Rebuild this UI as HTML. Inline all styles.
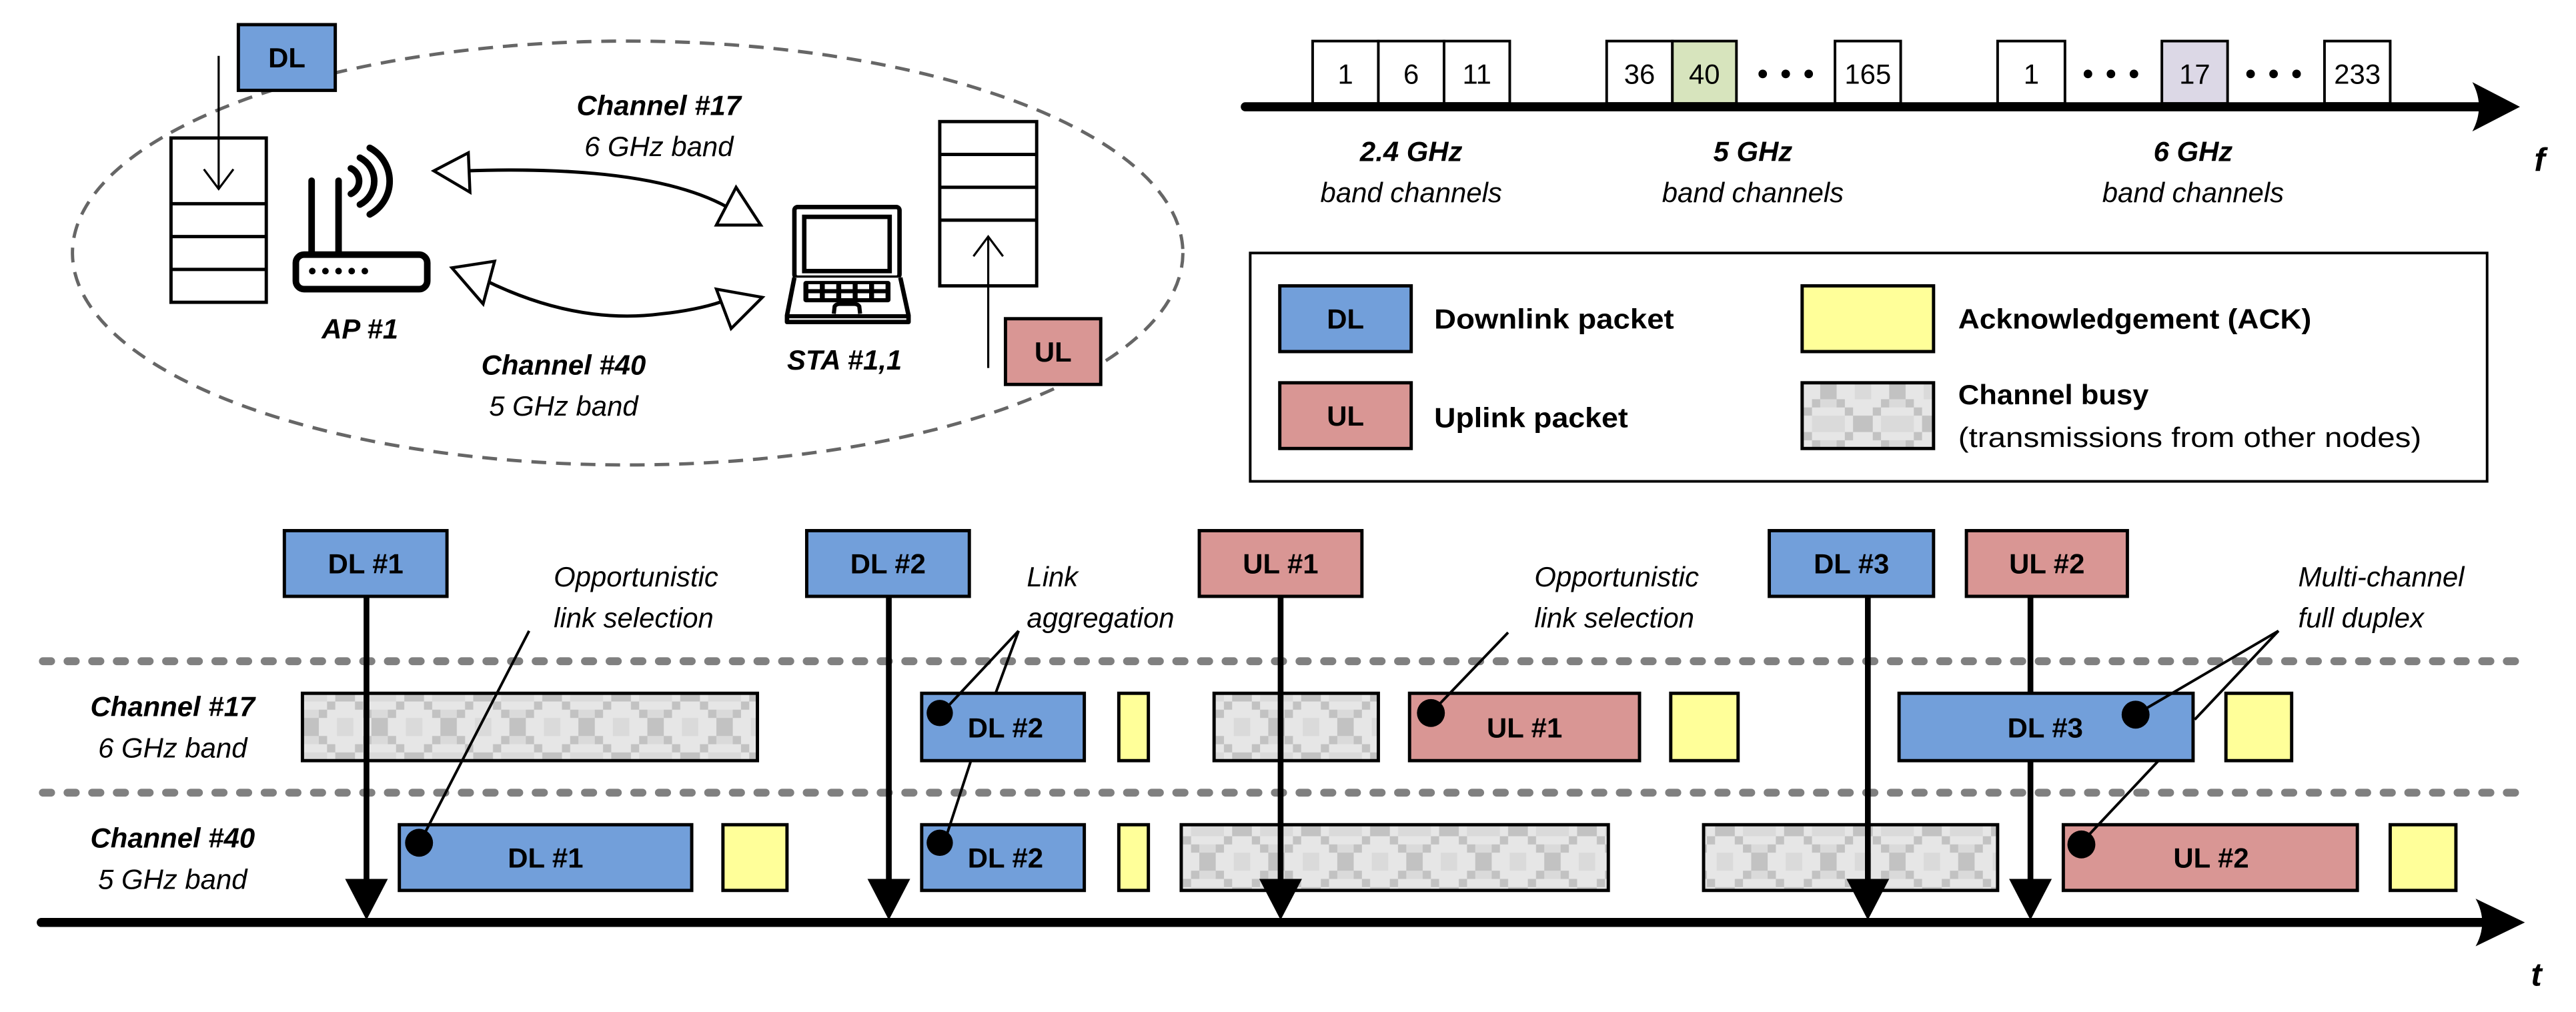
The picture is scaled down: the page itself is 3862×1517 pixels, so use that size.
<!DOCTYPE html>
<html><head><meta charset="utf-8"><style>html,body{margin:0;padding:0;background:#fff}svg{display:block}</style></head>
<body>
<svg width="3862" height="1517" viewBox="0 0 1568 616" xmlns="http://www.w3.org/2000/svg" font-family="'Liberation Sans', sans-serif">
<defs>
<pattern id="busy" patternUnits="userSpaceOnUse" width="42" height="41" x="0" y="422">
<rect width="42" height="41" fill="#e6e6e6"/>
<g fill="#dadada">
<rect x="11" y="0" width="20" height="5"/><rect x="11" y="36" width="20" height="5"/>
<rect x="0" y="15" width="5" height="11"/><rect x="37" y="15" width="5" height="11"/>
<rect x="11" y="10" width="20" height="5"/><rect x="11" y="26" width="20" height="5"/>
</g>
<g fill="#c2c2c2">
<rect x="16" y="15" width="10" height="11"/>
<rect x="11" y="10" width="5" height="5"/><rect x="26" y="10" width="5" height="5"/>
<rect x="11" y="26" width="5" height="5"/><rect x="26" y="26" width="5" height="5"/>
<rect x="6" y="5" width="5" height="5"/><rect x="31" y="5" width="5" height="5"/>
<rect x="6" y="31" width="5" height="5"/><rect x="31" y="31" width="5" height="5"/>
<rect x="0" y="0" width="6" height="5"/><rect x="36" y="0" width="6" height="5"/>
<rect x="0" y="36" width="6" height="5"/><rect x="36" y="36" width="6" height="5"/>
</g>
</pattern>
</defs>

<!-- ===== top-left scene ===== -->
<ellipse cx="382" cy="154" rx="338" ry="129" fill="none" stroke="#666" stroke-width="2" stroke-dasharray="9 6"/>
<rect x="104" y="84" width="58" height="100" fill="#fff" stroke="#000" stroke-width="2"/>
<line x1="104" y1="124" x2="162" y2="124" stroke="#000" stroke-width="2"/>
<line x1="104" y1="144" x2="162" y2="144" stroke="#000" stroke-width="2"/>
<line x1="104" y1="164" x2="162" y2="164" stroke="#000" stroke-width="2"/>
<rect x="145" y="15" width="59" height="40" fill="#729fda" stroke="#000" stroke-width="2"/>
<text x="174.5" y="41" font-size="17" font-weight="bold" text-anchor="middle">DL</text>
<line x1="133" y1="34" x2="133" y2="115" stroke="#000" stroke-width="1.3"/>
<polyline points="124,103 133,115 142,103" fill="none" stroke="#000" stroke-width="1.3"/>
<line x1="189.6" y1="110" x2="189.6" y2="154" stroke="#000" stroke-width="4" stroke-linecap="round"/>
<line x1="206" y1="110" x2="206" y2="154" stroke="#000" stroke-width="4" stroke-linecap="round"/>
<rect x="180" y="155" width="80" height="21" rx="5" fill="#fff" stroke="#000" stroke-width="4"/>
<g fill="#000"><circle cx="190" cy="165" r="2"/><circle cx="198" cy="165" r="2"/><circle cx="206" cy="165" r="2"/><circle cx="214" cy="165" r="2"/><circle cx="222" cy="165" r="2"/></g>
<g fill="none" stroke="#000" stroke-width="4" stroke-linecap="round">
<path d="M 213.5 102.5 A 8.5 8.5 0 0 1 213.5 118"/>
<path d="M 219 96 A 16 16 0 0 1 219 124.5"/>
<path d="M 225 90 A 23 23 0 0 1 225 130.5"/>
</g>
<text x="219" y="206" font-size="17" font-weight="bold" font-style="italic" text-anchor="middle">AP #1</text>
<text x="401" y="70" font-size="17" font-weight="bold" font-style="italic" text-anchor="middle">Channel #17</text>
<text x="401" y="95" font-size="17" font-style="italic" text-anchor="middle">6 GHz band</text>
<path d="M 283 104 Q 400 100 446 128" fill="none" stroke="#000" stroke-width="2"/>
<polygon points="264,104 285,93 286,117" fill="#fff" stroke="#000" stroke-width="1.8"/>
<polygon points="448,114 436,137 463,137" fill="#fff" stroke="#000" stroke-width="1.8"/>
<path d="M 294 170 Q 350 198 403 191 Q 430 188 446 181" fill="none" stroke="#000" stroke-width="2"/>
<polygon points="275,163 301,159 294,185" fill="#fff" stroke="#000" stroke-width="1.8"/>
<polygon points="436,176 464,181 445,200" fill="#fff" stroke="#000" stroke-width="1.8"/>
<text x="343" y="228" font-size="17" font-weight="bold" font-style="italic" text-anchor="middle">Channel #40</text>
<text x="343" y="253" font-size="17" font-style="italic" text-anchor="middle">5 GHz band</text>
<rect x="483.5" y="126" width="64" height="43" rx="2" fill="#fff" stroke="#000" stroke-width="2.7"/>
<rect x="489.5" y="132" width="52" height="33" fill="#fff" stroke="#000" stroke-width="2.7"/>
<path d="M 483.5 169 L 479 192 L 479 196 L 553 196 L 553 192 L 548 169" fill="#fff" stroke="#000" stroke-width="2.7" stroke-linejoin="round"/>
<line x1="479" y1="192.5" x2="553" y2="192.5" stroke="#000" stroke-width="2.5"/>
<rect x="489" y="171" width="53" height="13" rx="1.5" fill="#000"/>
<g fill="#fff">
<rect x="492" y="173" width="7" height="3"/><rect x="502" y="173" width="7" height="3"/><rect x="512" y="173" width="7" height="3"/><rect x="522" y="173" width="7" height="3"/><rect x="532" y="173" width="7" height="3"/>
<rect x="492" y="178.5" width="7" height="3"/><rect x="502" y="178.5" width="7" height="3"/><rect x="512" y="178.5" width="7" height="3"/><rect x="522" y="178.5" width="7" height="3"/><rect x="532" y="178.5" width="7" height="3"/>
</g>
<path d="M 507.5 191 L 508 186.5 Q 509 185 511 185 L 520 185 Q 522 185 523 186.5 L 523.5 191" fill="none" stroke="#000" stroke-width="2.5"/>
<text x="514" y="225" font-size="17" font-weight="bold" font-style="italic" text-anchor="middle">STA #1,1</text>
<rect x="572" y="74" width="59" height="100" fill="#fff" stroke="#000" stroke-width="2"/>
<line x1="572" y1="94" x2="631" y2="94" stroke="#000" stroke-width="2"/>
<line x1="572" y1="114" x2="631" y2="114" stroke="#000" stroke-width="2"/>
<line x1="572" y1="134" x2="631" y2="134" stroke="#000" stroke-width="2"/>
<line x1="601.5" y1="224" x2="601.5" y2="144" stroke="#000" stroke-width="1.3"/>
<polyline points="592.5,156 601.5,144 610.5,156" fill="none" stroke="#000" stroke-width="1.3"/>
<rect x="612" y="194" width="58" height="40" fill="#d99694" stroke="#000" stroke-width="2"/>
<text x="641" y="220" font-size="17" font-weight="bold" text-anchor="middle">UL</text>

<!-- ===== frequency axis ===== -->
<g stroke="#000" stroke-width="1.6">
<rect x="799" y="25" width="40" height="38" fill="#fff"/><rect x="839" y="25" width="40" height="38" fill="#fff"/><rect x="879" y="25" width="40" height="38" fill="#fff"/>
<rect x="978" y="25" width="40" height="38" fill="#fff"/><rect x="1018" y="25" width="39" height="38" fill="#d7e4bd"/>
<rect x="1117" y="25" width="40" height="38" fill="#fff"/>
<rect x="1216" y="25" width="41" height="38" fill="#fff"/>
<rect x="1316" y="25" width="40" height="38" fill="#dcd8e6"/>
<rect x="1415" y="25" width="40" height="38" fill="#fff"/>
</g>
<g font-size="17" text-anchor="middle">
<text x="819" y="51">1</text><text x="859" y="51">6</text><text x="899" y="51">11</text>
<text x="998" y="51">36</text><text x="1037.5" y="51">40</text><text x="1137" y="51">165</text>
<text x="1236.5" y="51">1</text><text x="1336" y="51">17</text><text x="1435" y="51">233</text>
</g>
<g fill="#000">
<circle cx="1073" cy="45" r="2.6"/><circle cx="1087" cy="45" r="2.6"/><circle cx="1101" cy="45" r="2.6"/>
<circle cx="1271" cy="45" r="2.6"/><circle cx="1285" cy="45" r="2.6"/><circle cx="1299" cy="45" r="2.6"/>
<circle cx="1370" cy="45" r="2.6"/><circle cx="1384" cy="45" r="2.6"/><circle cx="1398" cy="45" r="2.6"/>
</g>
<line x1="758" y1="65" x2="1515" y2="65" stroke="#000" stroke-width="5.5" stroke-linecap="round"/>
<path d="M 1534 65 L 1505 50 Q 1513 65 1505 80 Z" fill="#000"/>
<text x="1546" y="104" font-size="20" font-weight="bold" font-style="italic" text-anchor="middle">f</text>
<g font-size="17" text-anchor="middle" font-style="italic">
<text x="859" y="98" font-weight="bold">2.4 GHz</text><text x="859" y="123">band channels</text>
<text x="1067" y="98" font-weight="bold">5 GHz</text><text x="1067" y="123">band channels</text>
<text x="1335" y="98" font-weight="bold">6 GHz</text><text x="1335" y="123">band channels</text>
</g>

<!-- ===== legend ===== -->
<rect x="761" y="154" width="753" height="139" fill="#fff" stroke="#000" stroke-width="1.6"/>
<rect x="779" y="174" width="80" height="40" fill="#729fda" stroke="#000" stroke-width="2"/>
<text x="819" y="200" font-size="17" font-weight="bold" text-anchor="middle">DL</text>
<rect x="779" y="233" width="80" height="40" fill="#d99694" stroke="#000" stroke-width="2"/>
<text x="819" y="259" font-size="17" font-weight="bold" text-anchor="middle">UL</text>
<rect x="1097" y="174" width="80" height="40" fill="#ffff99" stroke="#000" stroke-width="2"/>
<rect x="1097" y="233" width="80" height="40" fill="url(#busy)" stroke="#000" stroke-width="2"/>
<g font-size="17" font-weight="bold">
<text x="873" y="200" textLength="146" lengthAdjust="spacingAndGlyphs">Downlink packet</text>
<text x="873" y="260" textLength="118" lengthAdjust="spacingAndGlyphs">Uplink packet</text>
<text x="1192" y="200" textLength="215" lengthAdjust="spacingAndGlyphs">Acknowledgement (ACK)</text>
<text x="1192" y="246" textLength="116" lengthAdjust="spacingAndGlyphs">Channel busy</text>
</g>
<text x="1192" y="272" font-size="17" textLength="282" lengthAdjust="spacingAndGlyphs">(transmissions from other nodes)</text>

<!-- ===== timeline ===== -->
<g stroke="#808080" stroke-width="4.8" stroke-linecap="round" stroke-dasharray="5 10">
<line x1="26" y1="402.5" x2="1535" y2="402.5"/>
<line x1="26" y1="482.5" x2="1535" y2="482.5"/>
</g>
<g font-size="17" text-anchor="middle" font-style="italic">
<text x="105" y="436" font-weight="bold">Channel #17</text><text x="105" y="461">6 GHz band</text>
<text x="105" y="516" font-weight="bold">Channel #40</text><text x="105" y="541">5 GHz band</text>
</g>
<g stroke="#000" stroke-width="2">
<rect x="184" y="422" width="277" height="41" fill="url(#busy)"/>
<rect x="243" y="502" width="178" height="40" fill="#729fda"/>
<rect x="440" y="502" width="39" height="40" fill="#ffff99"/>
<rect x="561" y="422" width="99" height="41" fill="#729fda"/>
<rect x="681" y="422" width="18" height="41" fill="#ffff99"/>
<rect x="561" y="502" width="99" height="40" fill="#729fda"/>
<rect x="681" y="502" width="18" height="40" fill="#ffff99"/>
<rect x="739" y="422" width="100" height="41" fill="url(#busy)"/>
<rect x="719" y="502" width="260" height="40" fill="url(#busy)"/>
<rect x="858" y="422" width="140" height="41" fill="#d99694"/>
<rect x="1017" y="422" width="41" height="41" fill="#ffff99"/>
<rect x="1037" y="502" width="179" height="40" fill="url(#busy)"/>
<rect x="1156" y="422" width="179" height="41" fill="#729fda"/>
<rect x="1355" y="422" width="40" height="41" fill="#ffff99"/>
<rect x="1256" y="502" width="179" height="40" fill="#d99694"/>
<rect x="1455" y="502" width="40" height="40" fill="#ffff99"/>
</g>
<g font-size="17" font-weight="bold" text-anchor="middle">
<text x="332" y="528">DL #1</text>
<text x="612" y="449">DL #2</text><text x="612" y="528">DL #2</text>
<text x="928" y="449">UL #1</text>
<text x="1245" y="449">DL #3</text>
<text x="1346" y="528">UL #2</text>
</g>
<g stroke="#000" stroke-width="2">
<rect x="173" y="323" width="99" height="40" fill="#729fda"/>
<rect x="491" y="323" width="99" height="40" fill="#729fda"/>
<rect x="730" y="323" width="99" height="40" fill="#d99694"/>
<rect x="1077" y="323" width="100" height="40" fill="#729fda"/>
<rect x="1197" y="323" width="98" height="40" fill="#d99694"/>
</g>
<g font-size="17" font-weight="bold" text-anchor="middle">
<text x="222.5" y="349">DL #1</text>
<text x="540.5" y="349">DL #2</text>
<text x="779.5" y="349">UL #1</text>
<text x="1127" y="349">DL #3</text>
<text x="1246" y="349">UL #2</text>
</g>
<g stroke="#000" stroke-width="3.5">
<line x1="223" y1="363" x2="223" y2="540"/>
<line x1="541" y1="363" x2="541" y2="540"/>
<line x1="779.5" y1="363" x2="779.5" y2="540"/>
<line x1="1137" y1="363" x2="1137" y2="540"/>
<line x1="1236" y1="363" x2="1236" y2="422"/>
<line x1="1236" y1="463" x2="1236" y2="540"/>
</g>
<g fill="#000">
<polygon points="210,535 236,535 223,560"/>
<polygon points="528,535 554,535 541,560"/>
<polygon points="766.5,535 792.5,535 779.5,560"/>
<polygon points="1124,535 1150,535 1137,560"/>
<polygon points="1223,535 1249,535 1236,560"/>
</g>
<line x1="25" y1="561.5" x2="1520" y2="561.5" stroke="#000" stroke-width="5.5" stroke-linecap="round"/>
<path d="M 1537 561.5 L 1507 547 Q 1515 561.5 1507 576 Z" fill="#000"/>
<text x="1544" y="600" font-size="20" font-weight="bold" font-style="italic" text-anchor="middle">t</text>
<g font-size="17" font-style="italic">
<text x="337" y="357">Opportunistic</text><text x="337" y="382">link selection</text>
<text x="625" y="357">Link</text><text x="625" y="382">aggregation</text>
<text x="934" y="357">Opportunistic</text><text x="934" y="382">link selection</text>
<text x="1399" y="357">Multi-channel</text><text x="1399" y="382">full duplex</text>
</g>
<g stroke="#000" stroke-width="1.6" fill="none">
<line x1="322" y1="384" x2="257" y2="510"/>
<line x1="620" y1="384" x2="575" y2="432"/>
<line x1="620" y1="384" x2="606" y2="422"/>
<line x1="591" y1="463" x2="575" y2="512"/>
<line x1="918" y1="385" x2="871" y2="434"/>
<line x1="1387" y1="384" x2="1300" y2="435"/>
<line x1="1387" y1="384" x2="1336" y2="438"/>
<line x1="1314" y1="463" x2="1267" y2="513"/>
</g>
<g fill="#000">
<circle cx="255" cy="513" r="8.5"/>
<circle cx="572" cy="434" r="8"/>
<circle cx="572" cy="513" r="8"/>
<circle cx="871" cy="434" r="8.5"/>
<circle cx="1300" cy="435" r="8.5"/>
<circle cx="1267" cy="514" r="8.5"/>
</g>
</svg>
</body></html>
